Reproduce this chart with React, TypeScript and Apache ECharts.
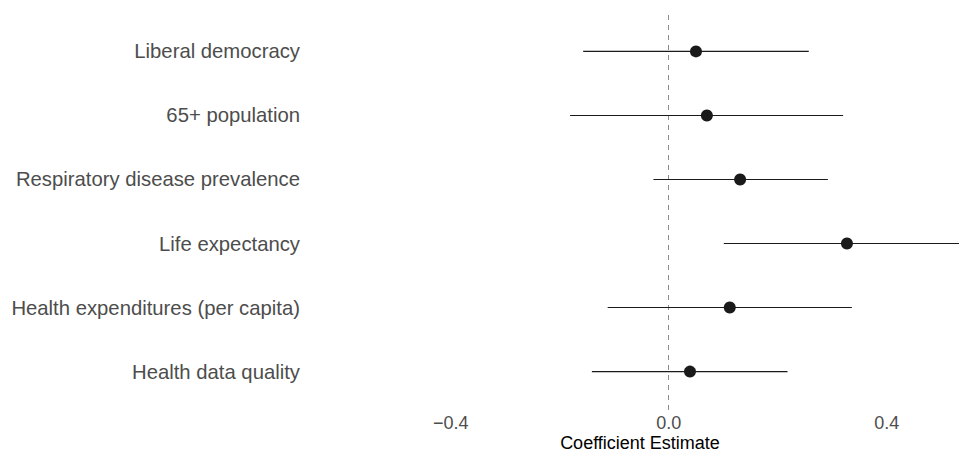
import React, { useEffect, useRef } from "react";
import * as echarts from "echarts";

const categories = [
  "Health data quality",
  "Health expenditures (per capita)",
  "Life expectancy",
  "Respiratory disease prevalence",
  "65+ population",
  "Liberal democracy",
];
const estimates = [0.039, 0.112, 0.327, 0.131, 0.07, 0.05];
const lower = [-0.141, -0.112, 0.101, -0.028, -0.181, -0.157];
const upper = [0.218, 0.336, 0.553, 0.292, 0.32, 0.257];
const xTicks = [-0.4, 0, 0.4];

const FONT = "'Liberation Sans', Arial, Helvetica, sans-serif";

export default function App() {
  const ref = useRef<HTMLDivElement>(null);
  useEffect(() => {
    if (!ref.current) return;
    const chart = echarts.init(ref.current, null, { renderer: "svg" });
    const pos = categories.map((_, i) => i + 1);
    chart.setOption({
      animation: false,
      backgroundColor: "#ffffff",
      grid: {
        left: 307,
        right: -14,
        top: 13,
        bottom: 42,
        containLabel: false,
        outerBoundsMode: "none",
      },
      xAxis: {
        type: "value",
        min: -0.6637,
        max: 0.5583,
        name: "Coefficient Estimate",
        nameLocation: "middle",
        nameGap: 25.5,
        nameMoveOverlap: false,
        nameTextStyle: {
          color: "#000000",
          fontSize: 18,
          lineHeight: 14,
          fontFamily: FONT,
        },
        axisLine: { show: false },
        axisTick: { show: false },
        splitLine: { show: false },
        axisLabel: {
          customValues: xTicks,
          color: "#4d4d4d",
          fontSize: 18,
          lineHeight: 14,
          fontFamily: FONT,
          margin: 5.5,
          formatter: (v: number) =>
            (v < 0 ? "\u2212" : "") + Math.abs(v).toFixed(1),
        },
      },
      yAxis: {
        type: "value",
        min: 0.4,
        max: 6.6,
        axisLine: { show: false },
        axisTick: { show: false },
        splitLine: { show: false },
        axisLabel: {
          customValues: pos,
          color: "#4d4d4d",
          fontSize: 20.3,
          fontFamily: FONT,
          margin: 7,
          formatter: (v: number) => categories[Math.round(v) - 1] ?? "",
        },
      },
      series: [
        {
          type: "custom",
          clip: true,
          z: 2,
          data: categories.map((_, i) => [lower[i], upper[i], pos[i]]),
          encode: { x: [0, 1], y: 2 },
          renderItem: (params: any, api: any) => {
            const y = api.value(2);
            const p1 = api.coord([api.value(0), y]);
            const p2 = api.coord([api.value(1), y]);
            return {
              type: "line",
              shape: { x1: p1[0], y1: p1[1], x2: p2[0], y2: p2[1] },
              style: { stroke: "#1a1a1a", lineWidth: 1.1 },
            };
          },
          markLine: {
            silent: true,
            symbol: ["none", "none"],
            label: { show: false },
            lineStyle: { type: [5, 5], color: "#8c8c8c", width: 1 },
            data: [{ xAxis: 0 }],
            z: 1,
          },
        },
        {
          type: "scatter",
          z: 3,
          symbol: "circle",
          symbolSize: 12,
          itemStyle: { color: "#1a1a1a", opacity: 1 },
          data: categories.map((_, i) => [estimates[i], pos[i]]),
        },
      ],
    });
    return () => chart.dispose();
  }, []);
  return (
    <div
      ref={ref}
      style={{ position: "absolute", left: 0, top: 0, width: 959, height: 452 }}
    />
  );
}
